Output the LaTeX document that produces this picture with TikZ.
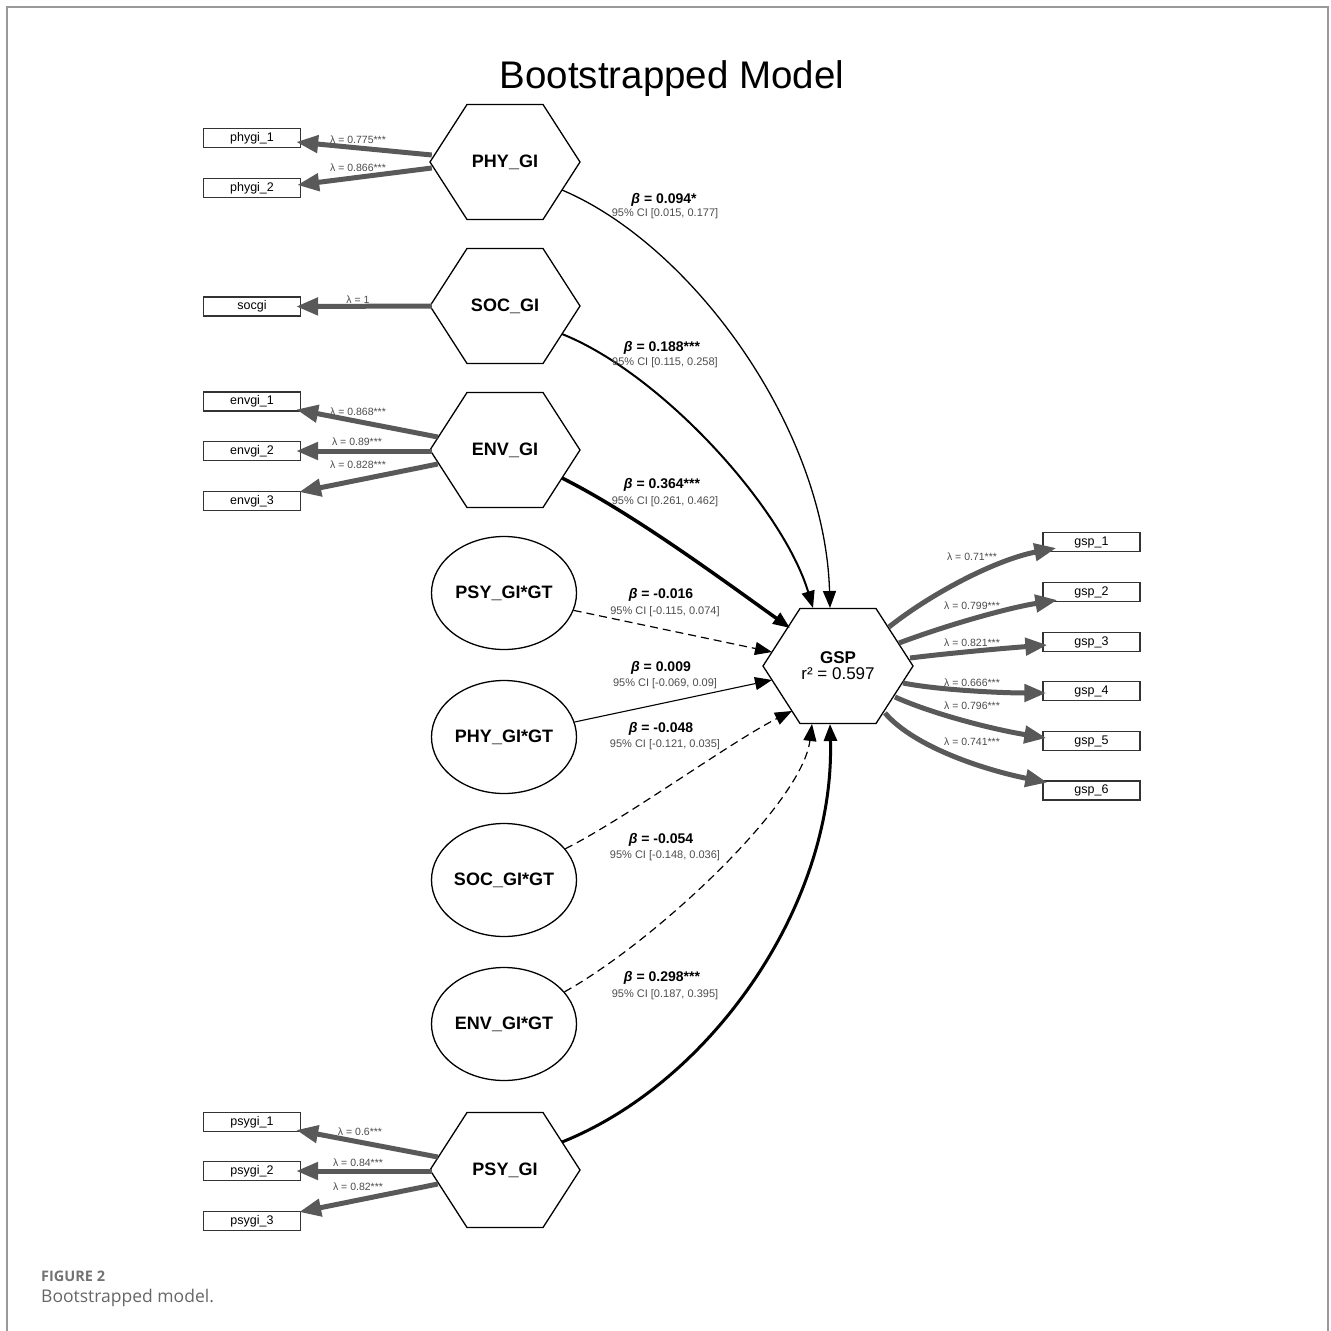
\documentclass[tikz,border=0pt]{standalone}
\usepackage{fontspec}
\setmainfont{Liberation Sans}
\newfontfamily\capfont{Open Sans}
\usetikzlibrary{arrows.meta,calc,shapes.geometric}
\newcommand\hexnode[5][]{%
  \node[hexlbl,#1] (#2) at (#3,#4) {#5};
  \draw[hexline] ($(#2.center)+(-75,0)$) -- ++(37,-57.5) -- ++(76,0) -- ++(37,57.5) -- ++(-37,57.5) -- ++(-76,0) -- cycle;}
\begin{document}
\begin{tikzpicture}[x=1pt,y=-1pt,
  hexlbl/.style={minimum width=150pt,minimum height=115pt,inner sep=0pt,font=\fontsize{18}{20}\selectfont\bfseries},
  hexline/.style={draw=black,line width=1.3pt,line join=miter},
  ell/.style={ellipse,draw=black,line width=1.3pt,minimum width=145pt,minimum height=113pt,inner sep=0pt,font=\fontsize{18}{20}\selectfont\bfseries},
  box/.style={draw=black!80,line width=1.3pt,minimum width=97pt,minimum height=19pt,inner sep=0pt,font=\fontsize{12.5}{14}\selectfont},
  load/.style={line width=5pt,draw=black!65,-{Triangle[length=22pt,width=17pt]}},
  lam/.style={font=\fontsize{10.5}{12}\selectfont,text=black!70,inner sep=0pt},
  beta/.style={font=\fontsize{14}{16}\selectfont\bfseries,inner sep=0pt},
  ci/.style={font=\fontsize{11}{13}\selectfont,text=black!70,inner sep=0pt},
  sarrow/.style={draw=black,-{Triangle[length=17pt,width=13pt]}},
  darrow/.style={sarrow,line width=1.2pt,dash pattern=on 8pt off 5pt}
]
\useasboundingbox (0,0) rectangle (1331,1331);
% frame
\draw[black!40,line width=2pt] (7,1331) -- (7,7) -- (1328,7) -- (1328,1331);
% title
\node[anchor=base,inner sep=0pt,font=\fontsize{38.5}{40}\selectfont] (title) at (672,88) {Bootstrapped Model};

% latent hexagons
\hexnode{PHY}{505}{162}{PHY\_GI}
\hexnode{SOC}{505}{306}{SOC\_GI}
\hexnode{ENV}{505}{450}{ENV\_GI}
\hexnode{PSY}{505}{1170}{PSY\_GI}
\hexnode[align=center,font=\fontsize{17}{16}\selectfont\bfseries]{GSP}{838}{666}{GSP\\{\mdseries r² = 0.597}}

% interaction ellipses
\node[ell] (PSYGT) at (504,593) {PSY\_GI*GT};
\node[ell] (PHYGT) at (504,737) {PHY\_GI*GT};
\node[ell] (SOCGT) at (504,880) {SOC\_GI*GT};
\node[ell] (ENVGT) at (504,1024) {ENV\_GI*GT};

% indicator boxes
\node[box] (p1) at (252,138) {phygi\_1};
\node[box] (p2) at (252,188) {phygi\_2};
\node[box] (s1) at (252,306.5) {socgi};
\node[box] (e1) at (252,401.5) {envgi\_1};
\node[box] (e2) at (252,451) {envgi\_2};
\node[box] (e3) at (252,501) {envgi\_3};
\node[box] (q1) at (252,1122) {psygi\_1};
\node[box] (q2) at (252,1171) {psygi\_2};
\node[box] (q3) at (252,1221) {psygi\_3};
\node[box] (g1) at (1091.5,542) {gsp\_1};
\node[box] (g2) at (1091.5,592) {gsp\_2};
\node[box] (g3) at (1091.5,642) {gsp\_3};
\node[box] (g4) at (1091.5,691) {gsp\_4};
\node[box] (g5) at (1091.5,741) {gsp\_5};
\node[box] (g6) at (1091.5,790.5) {gsp\_6};

% loadings left
\draw[load] ($(PHY.west)+(2,-7)$) -- ($(p1.east)+(-5,4)$);
\draw[load] ($(PHY.west)+(2,6)$) -- ($(p2.east)+(-4,-3)$);
\draw[load] ($(SOC.west)+(2,0)$) -- ($(s1.east)+(-5,0)$);
\draw[load] ($(ENV.west)+(8,-13)$) -- ($(e1.east)+(-5,8)$);
\draw[load] ($(ENV.west)+(2,1)$) -- ($(e2.east)+(-5,0)$);
\draw[load] ($(ENV.west)+(8,14)$) -- ($(e3.east)+(-2,-9)$);
\draw[load] ($(PSY.west)+(8,-13)$) -- ($(q1.east)+(-5,8)$);
\draw[load] ($(PSY.west)+(2,1)$) -- ($(q2.east)+(-5,0)$);
\draw[load] ($(PSY.west)+(8,14)$) -- ($(q3.east)+(-2,-9)$);

% loadings right
\draw[load] ($(GSP.center)+(51,-39)$) .. controls +(40,-32) and +(-62,12) .. ($(g1.west)+(14,6)$);
\draw[load] ($(GSP.center)+(61,-23)$) .. controls +(48,-18) and +(-50,8) .. ($(g2.west)+(15,8)$);
\draw[load] ($(GSP.center)+(72,-8)$) .. controls +(40,-5) and +(-40,3) .. ($(g3.west)+(5,3)$);
\draw[load] ($(GSP.center)+(65,17)$) .. controls +(35,7) and +(-45,0) .. ($(g4.west)+(4,2)$);
\draw[load] ($(GSP.center)+(57,31)$) .. controls +(40,18) and +(-50,-8) .. ($(g5.west)+(4,-3)$);
\draw[load] ($(GSP.center)+(47,47)$) .. controls +(30,35) and +(-60,-12) .. ($(g6.west)+(5,-8)$);

% structural paths
\draw[sarrow,line width=1.3pt] ($(PHY.center)+(57,28)$) .. controls +(130,55) and +(-5,-180) .. ($(GSP.center)+(-8,-58)$);
\draw[sarrow,line width=2pt] ($(SOC.center)+(57,28)$) .. controls +(100,40) and +(-30,-100) .. ($(GSP.center)+(-25,-58)$);
\draw[sarrow,line width=3.5pt] ($(ENV.center)+(57,28)$) .. controls +(70,35) and +(-70,-50) .. ($(GSP.center)+(-48,-38)$);
\draw[darrow] (PSYGT.-14) -- ($(GSP.center)+(-66,-14)$);
\draw[sarrow,line width=1.1pt] (PHYGT.12) -- ($(GSP.center)+(-66,14)$);
\draw[darrow] (SOCGT.27) .. controls +(60,-30) and +(-60,30) .. ($(GSP.center)+(-46,45)$);
\draw[darrow] (ENVGT.28) .. controls +(90,-50) and +(-10,80) .. ($(GSP.center)+(-26,58)$);
\draw[sarrow,line width=3pt] ($(PSY.center)+(57,-28)$) .. controls +(150,-60) and +(5,180) .. ($(GSP.center)+(-8,58)$);

% loading labels
\node[lam] (l1) at (358,140) {λ = 0.775***};
\node[lam] (l2) at (358,168) {λ = 0.866***};
\node[lam] (l3) at (358,300) {λ = 1};
\node[lam] (l4) at (358,412) {λ = 0.868***};
\node[lam] (l5) at (357,442) {λ = 0.89***};
\node[lam] (l6) at (358,465) {λ = 0.828***};
\node[lam] (l7) at (360,1132) {λ = 0.6***};
\node[lam] (l8) at (358,1163) {λ = 0.84***};
\node[lam] (l9) at (358,1187) {λ = 0.82***};
\node[lam] (m1) at (972,557) {λ = 0.71***};
\node[lam] (m2) at (972,606) {λ = 0.799***};
\node[lam] (m3) at (972,643) {λ = 0.821***};
\node[lam] (m4) at (972,683) {λ = 0.666***};
\node[lam] (m5) at (972,706) {λ = 0.796***};
\node[lam] (m6) at (972,742) {λ = 0.741***};

% path labels
\node[beta] (b1) at (664,200) {\textit{β} = 0.094*};
\node[ci] (c1) at (665,214) {95\% CI [0.015, 0.177]};
\node[beta] (b2) at (662,348) {\textit{β} = 0.188***};
\node[ci] (c2) at (665,363) {95\% CI [0.115, 0.258]};
\node[beta] (b3) at (662,485) {\textit{β} = 0.364***};
\node[ci] (c3) at (665,502) {95\% CI [0.261, 0.462]};
\node[beta] (b4) at (661,595) {\textit{β} = -0.016};
\node[ci] (c4) at (665,612) {95\% CI [-0.115, 0.074]};
\node[beta] (b5) at (661,668) {\textit{β} = 0.009};
\node[ci] (c5) at (665,684) {95\% CI [-0.069, 0.09]};
\node[beta] (b6) at (661,729) {\textit{β} = -0.048};
\node[ci] (c6) at (665,745) {95\% CI [-0.121, 0.035]};
\node[beta] (b7) at (661,840) {\textit{β} = -0.054};
\node[ci] (c7) at (665,856) {95\% CI [-0.148, 0.036]};
\node[beta] (b8) at (662,978) {\textit{β} = 0.298***};
\node[ci] (c8) at (665,995) {95\% CI [0.187, 0.395]};

% caption
\node[anchor=base west,inner sep=0pt,text=black!55,font=\capfont\fontsize{14.5}{16}\selectfont\bfseries] (fig) at (41,1281) {FIGURE 2};
\node[anchor=base west,inner sep=0pt,text=black!60,font=\capfont\fontsize{17.5}{20}\selectfont] (cap) at (41,1302) {Bootstrapped model.};
\end{tikzpicture}
\end{document}
